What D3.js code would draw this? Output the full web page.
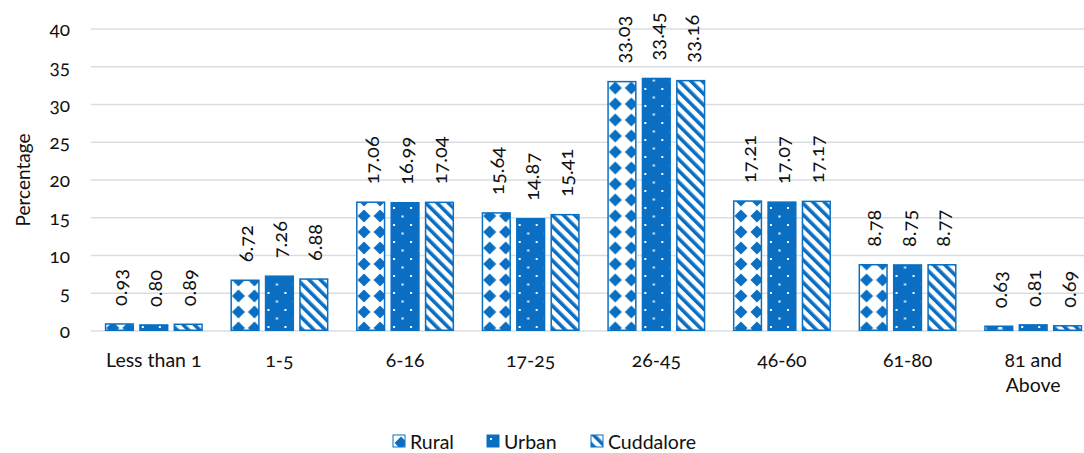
<!DOCTYPE html>
<html>
<head>
<meta charset="utf-8">
<script src="https://cdn.jsdelivr.net/npm/d3@7"></script>
<style>
  body { margin: 0; background: #fff; }
  svg text { font-family: Lato, "Open Sans", sans-serif; fill: #111; font-variant-numeric: oldstyle-nums; }
</style>
</head>
<body>
<svg id="chart" width="1084" height="453"></svg>
<script>
// age groups and the three series (percent)
var categories = ["Less than 1", "1-5", "6-16", "17-25", "26-45", "46-60", "61-80", "81 and Above"];
var seriesNames = ["Rural", "Urban", "Cuddalore"];
var rural = [0.93, 6.72, 17.06, 15.64, 33.03, 17.21, 8.78, 0.63];
var urban = [0.80, 7.26, 16.99, 14.87, 33.45, 17.07, 8.75, 0.81];
var cuddalore = [0.89, 6.88, 17.04, 15.41, 33.16, 17.17, 8.77, 0.69];
var yTicks = [0, 5, 10, 15, 20, 25, 30, 35, 40];

var blue = "#0a6fc2";
var values = { Rural: rural, Urban: urban, Cuddalore: cuddalore };

var svg = d3.select("#chart");
var defs = svg.append("defs");

// Rural: diamonds on white
var pR = defs.append("pattern").attr("id", "pat-Rural")
    .attr("patternUnits", "userSpaceOnUse").attr("width", 16).attr("height", 16);
pR.append("rect").attr("width", 16).attr("height", 16).attr("fill", "#fff");
pR.append("path").attr("d", "M8,1.5 L14.5,8 L8,14.5 L1.5,8 Z").attr("fill", blue);

// Urban: solid with white dots
var pU = defs.append("pattern").attr("id", "pat-Urban")
    .attr("patternUnits", "userSpaceOnUse").attr("width", 17).attr("height", 17);
pU.append("rect").attr("width", 17).attr("height", 17).attr("fill", blue);
pU.append("rect").attr("x", 3).attr("y", 3).attr("width", 2).attr("height", 2).attr("fill", "#fff");
pU.append("rect").attr("x", 11.5).attr("y", 11.5).attr("width", 2).attr("height", 2).attr("fill", "#fff");

// Cuddalore: wide diagonal stripes
var pC = defs.append("pattern").attr("id", "pat-Cuddalore")
    .attr("patternUnits", "userSpaceOnUse").attr("width", 8).attr("height", 8)
    .attr("patternTransform", "rotate(-45)");
pC.append("rect").attr("width", 8).attr("height", 8).attr("fill", "#fff");
pC.append("rect").attr("width", 3.6).attr("height", 8).attr("fill", blue);

var x0 = d3.scaleBand().domain(categories).range([91, 1096]);
var groupW = x0.bandwidth() * 0.78;
var x1 = d3.scaleBand().domain(seriesNames).range([0, groupW]).paddingInner(0.15);
var y = d3.scaleLinear().domain([0, 40]).range([331, 29]);

// gridlines
svg.append("g").selectAll("line").data(yTicks).enter().append("line")
    .attr("x1", 91).attr("x2", 1084)
    .attr("y1", function(d) { return y(d); })
    .attr("y2", function(d) { return y(d); })
    .attr("stroke", "#d9dde3").attr("stroke-width", 1.5);

// y axis labels
var yAxis = svg.append("g").attr("transform", "translate(70,0)")
    .call(d3.axisLeft(y).tickValues(yTicks).tickSize(0).tickPadding(0));
yAxis.select(".domain").remove();
yAxis.selectAll("text").attr("font-size", 19).attr("dy", "0.35em");

svg.append("text")
    .attr("transform", "translate(22,180) rotate(-90)")
    .attr("text-anchor", "middle").attr("dominant-baseline", "central")
    .attr("font-size", 19).text("Percentage");

// bars
var groups = svg.append("g").selectAll("g").data(categories).enter().append("g")
    .attr("transform", function(d) {
      return "translate(" + (x0(d) + (x0.bandwidth() - groupW) / 2) + ",0)";
    });

seriesNames.forEach(function(s) {
  groups.append("rect")
    .attr("x", x1(s) + 0.75)
    .attr("width", x1.bandwidth() - 1.5)
    .attr("y", function(d, i) { return y(values[s][i]); })
    .attr("height", function(d, i) { return y(0) - y(values[s][i]) - 0.75; })
    .attr("fill", "url(#pat-" + s + ")")
    .attr("stroke", blue).attr("stroke-width", 1.5);

  groups.append("text")
    .attr("transform", function(d, i) {
      return "translate(" + (x1(s) + x1.bandwidth() / 2) + "," + (y(values[s][i]) - 18) + ") rotate(-90)";
    })
    .attr("dominant-baseline", "central")
    .attr("font-size", 20)
    .text(function(d, i) { return values[s][i].toFixed(2); });
});

// category labels
var xl = svg.append("g").selectAll("text").data(categories).enter().append("text")
    .attr("x", function(d) { return x0(d) + x0.bandwidth() / 2; })
    .attr("y", 367)
    .attr("text-anchor", "middle")
    .attr("font-size", 19.5);
xl.each(function(d) {
  var t = d3.select(this);
  if (d === "81 and Above") {
    t.append("tspan").attr("x", t.attr("x")).text("81 and");
    t.append("tspan").attr("x", t.attr("x")).attr("dy", 25).text("Above");
  } else {
    t.text(d);
  }
});

// legend
var legendX = [393, 487, 591];
var legend = svg.append("g").selectAll("g").data(seriesNames).enter().append("g")
    .attr("transform", function(d, i) { return "translate(" + legendX[i] + ",435)"; });
legend.append("rect").attr("width", 12).attr("height", 12)
    .attr("fill", function(d) { return "url(#pat-" + d + ")"; })
    .attr("stroke", blue).attr("stroke-width", 1);
legend.append("text").attr("x", 17).attr("y", 6).attr("dominant-baseline", "central")
    .attr("font-size", 19.5).text(function(d) { return d; });
</script>
</body>
</html>
